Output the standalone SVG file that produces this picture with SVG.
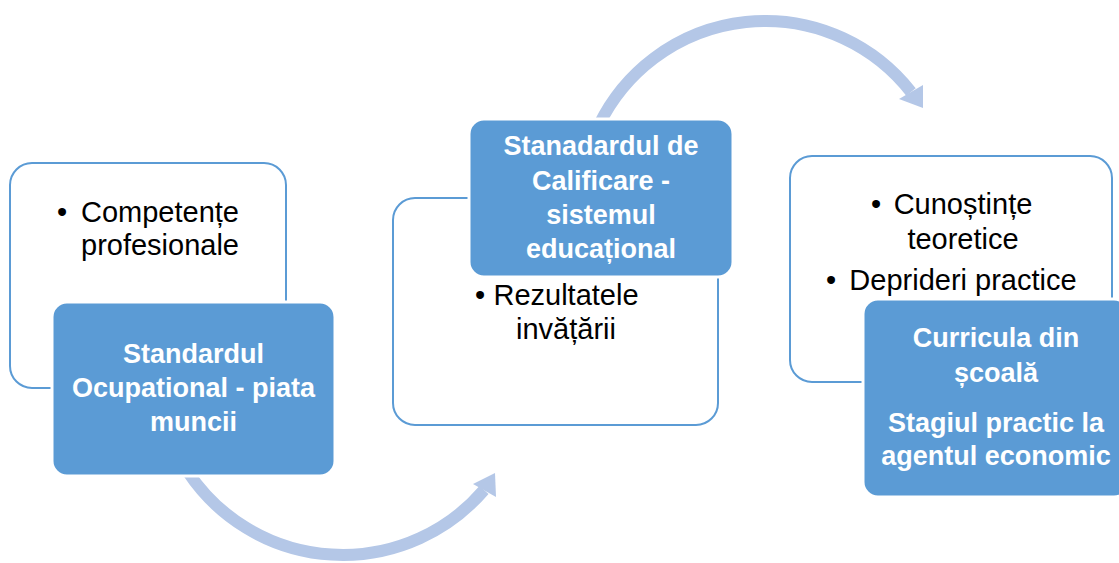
<svg xmlns="http://www.w3.org/2000/svg" width="1119" height="563" viewBox="0 0 1119 563">
  <style>
    .outer { fill: #ffffff; stroke: #5b9bd5; stroke-width: 2; }
    .inner { fill: #5b9bd5; stroke: #ffffff; stroke-width: 3; }
    .arc { fill: none; stroke: #b4c7e7; stroke-width: 12; }
    .head { fill: #b4c7e7; stroke: none; }
    .t { font-family: "Liberation Sans", Arial, sans-serif; font-size: 29px; fill: #000000; }
    .tc { text-anchor: middle; }
    .b { font-family: "Liberation Sans", Arial, sans-serif; font-size: 27px; font-weight: bold; fill: #ffffff; text-anchor: middle; }
  </style>
  <rect width="1119" height="563" fill="#ffffff"/>

  <g id="node-competente">
    <rect class="outer" x="10" y="163" width="276" height="225" rx="22"/>
    <text class="t" x="57" y="222">•</text>
    <text class="t tc" x="160" y="222">Competențe</text>
    <text class="t tc" x="160" y="255">profesionale</text>
  </g>

  <g id="node-rezultate">
    <rect class="outer" x="393" y="198" width="325" height="227" rx="22"/>
    <text class="t" x="475" y="305">•</text>
    <text class="t tc" x="566" y="305">Rezultatele</text>
    <text class="t tc" x="566" y="339">invățării</text>
  </g>

  <g id="node-cunostinte">
    <rect class="outer" x="790" y="156" width="322" height="226" rx="22"/>
    <text class="t" x="871" y="214">•</text>
    <text class="t tc" x="963" y="214">Cunoștințe</text>
    <text class="t tc" x="963" y="249">teoretice</text>
    <text class="t" x="826" y="290">•</text>
    <text class="t tc" x="963" y="290">Deprideri practice</text>
  </g>

  <g id="connectors">
    <path class="arc" d="M 188 472 A 186 186 0 0 0 484 490"/>
    <polygon class="head" points="473,484 495,473 496,497"/>
    <path class="arc" d="M 599 125 A 185 185 0 0 1 911 92"/>
    <polygon class="head" points="899,99 923,85 923,108"/>
  </g>

  <g id="node-standard-ocupational">
    <rect class="inner" x="52" y="302" width="283" height="174" rx="15"/>
    <text class="b" x="193.5" y="363">Standardul</text>
    <text class="b" x="193.5" y="397">Ocupational - piata</text>
    <text class="b" x="193.5" y="431">muncii</text>
  </g>

  <g id="node-standard-calificare">
    <rect class="inner" x="469" y="119" width="264" height="158" rx="15"/>
    <text class="b" x="601" y="155">Stanadardul de</text>
    <text class="b" x="601" y="190">Calificare -</text>
    <text class="b" x="601" y="224">sistemul</text>
    <text class="b" x="601" y="258">educațional</text>
  </g>

  <g id="node-curricula">
    <rect class="inner" x="863" y="299" width="266" height="198" rx="15"/>
    <text class="b" x="996" y="347">Curricula din</text>
    <text class="b" x="996" y="382">școală</text>
    <text class="b" x="996" y="432">Stagiul practic la</text>
    <text class="b" x="996" y="465">agentul economic</text>
  </g>
</svg>
